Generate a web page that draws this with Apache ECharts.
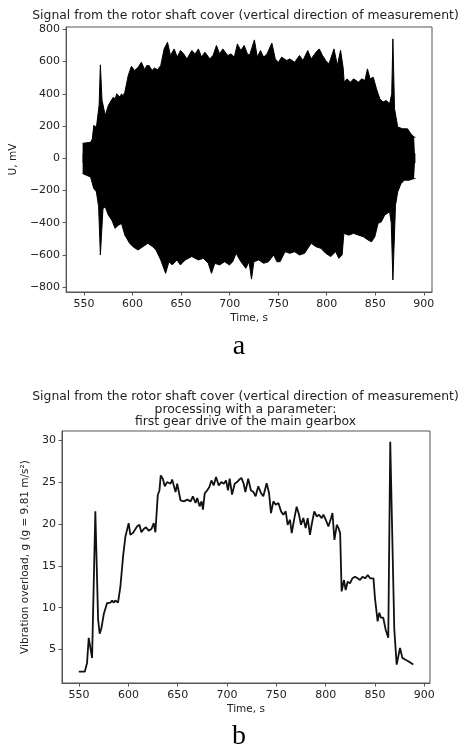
<!DOCTYPE html>
<html>
<head>
<meta charset="utf-8">
<script src="https://cdn.jsdelivr.net/npm/echarts@6/dist/echarts.min.js"></script>
<style>
  html, body { margin: 0; padding: 0; background: #fff; }
  #chart { width: 460px; height: 745px; }
</style>
</head>
<body>
<div id="chart"></div>
<script>
// (a) raw signal, drawn as its upper / lower envelope
const upperTime = [548.5, 556.7, 558.5, 560, 562.7, 565.5, 566.8, 568.5, 570.2, 571.8, 575, 578, 580.3, 582, 583.6, 587, 588.6, 590, 592, 595.5,
  598.8, 602, 605.5, 609, 612.5, 614.5, 617, 620, 622.5, 625.7, 629, 632.5, 636, 639, 642.8, 646, 649.3, 652.7, 656, 661,
  664.5, 667.8, 671, 674.5, 679.6, 683, 686.4, 689.7, 693, 698, 701.5, 704.8, 708, 711.5, 715, 718.3, 720.5, 725.5, 728.5, 731.8,
  735, 738.5, 743.5, 747, 750.3, 753.6, 758.7, 762, 767, 772, 775.5, 780.5, 784, 789, 792.3, 795.7, 799, 802.4, 807.5, 811,
  814.3, 817, 818, 821, 824.4, 827.7, 832.8, 836, 839.4, 842, 844.7, 848, 851.3, 854.7, 858, 861.4, 864.8, 867, 868.2, 869.9,
  873.2, 878.3, 883.3, 886.7, 890, 891.5]
const upperValue = [93, 99, 120, 204, 192, 330, 580, 360, 349, 266, 328, 360, 380, 365, 400, 380, 400, 385, 410, 514,
  571, 545, 563, 596, 550, 575, 576, 545, 560, 550, 576, 679, 720, 638, 679, 628, 669, 648, 617, 669,
  648, 679, 628, 659, 617, 640, 700, 648, 679, 638, 648, 628, 710, 669, 700, 648, 640, 735, 628, 669,
  628, 648, 715, 617, 596, 628, 607, 617, 596, 638, 607, 669, 617, 659, 679, 638, 607, 586, 679, 576,
  670, 560, 472, 493, 472, 493, 472, 493, 483, 555, 493, 503, 431, 370, 349, 359, 338, 400, 741, 308,
  194, 183, 183, 153, 132, 130]
const lowerTime = [548.5, 556.7, 560, 562.7, 565, 566.8, 569.5, 571.8, 575, 578.6, 582, 585.3, 588.6, 592, 597, 600.4, 605.5, 610.6, 615.7, 620.7,
  624.1, 629, 634, 637.5, 640.8, 645.8, 649.2, 654.3, 661, 667.8, 672.9, 678, 681.3, 684.7, 689.7, 694.8, 699.8, 703.2, 706.6, 711.6,
  716.7, 720, 722.5, 725, 730, 735, 740, 745.3, 748.7, 752, 757, 762, 767, 772, 777.2, 784, 789, 794, 799, 804.2,
  809.2, 812.5, 815.9, 817.7, 822.7, 827.7, 832.8, 837.8, 842.8, 846.2, 849.6, 853, 856.4, 859.7, 864.8, 866.5, 868.2, 870.9, 873.2, 876.6,
  880, 885, 890, 891.5]
const lowerValue = [-95, -116, -188, -208, -301, -600, -312, -301, -353, -384, -435, -415, -405, -477, -528, -549, -569, -549, -528, -549,
  -569, -631, -714, -642, -662, -631, -662, -631, -610, -631, -621, -652, -714, -652, -662, -642, -662, -642, -590, -642,
  -683, -642, -750, -642, -631, -652, -642, -600, -642, -642, -580, -590, -580, -600, -590, -528, -549, -559, -590, -610,
  -580, -621, -600, -466, -477, -466, -477, -487, -508, -518, -487, -404, -394, -353, -332, -400, -755, -291, -208, -157,
  -136, -136, -126, -124]

// (b) processed vibration overload
const bTime = [549.7, 555.8, 558.1, 559.8, 563.2, 566.5, 569.3, 570.9, 572.6, 575, 576.7, 578.4, 581.8, 583.5, 585.1, 586.8, 589.5, 591.9, 594.6, 597,
  598.7, 600.3, 602, 604.4, 606.4, 608.8, 611.2, 613.2, 615.6, 617.9, 620.6, 623.4, 625.7, 627.4, 629.8, 631.5, 632.8, 634.9, 636.9, 639.3,
  641, 642.7, 644.4, 646.1, 647.8, 649.5, 652.9, 656.3, 659.7, 661.4, 663.1, 665.4, 668.1, 669.8, 672.2, 674.2, 675.6, 677.4, 679.8, 682.1,
  684.2, 686.5, 688.9, 691.6, 694.3, 696.7, 699, 701, 702.7, 705.1, 707.8, 710.2, 712.5, 714.6, 716.9, 718.6, 721.5, 724.3, 726.6, 729,
  731.7, 734.4, 736.8, 740.2, 742.6, 744.6, 747, 749.4, 752.1, 754.8, 757.1, 759.5, 761.5, 763.9, 765.6, 768.3, 770.6, 773, 775, 777.4,
  779.7, 781.8, 784.1, 785.8, 788.5, 790.9, 793.3, 796, 797.7, 800.1, 802.8, 805.5, 806.9, 808.9, 811.3, 813, 814.7, 816.2, 818.6, 820.3,
  822.3, 824.7, 827.1, 829.8, 832.5, 834.9, 837.3, 840, 842.7, 845.1, 848.5, 850, 852.7, 854.4, 856.1, 858.4, 860.8, 863.5, 865.5, 866.5,
  869.6, 872, 873.7, 875.4, 877.8, 880.5, 883.8, 888.8]
const bValue = [2.35, 2.35, 3.4, 6.4, 4.0, 21.5, 8.6, 6.9, 7.5, 9.2, 9.4, 10.55, 10.6, 10.85, 10.6, 10.85, 10.6, 12.5, 16.1, 18.5,
  18.7, 20.1, 18.7, 18.9, 18.7, 19.7, 19.9, 19.0, 19.4, 19.6, 19.2, 19.4, 20.1, 19.0, 23.45, 24.0, 25.8, 25.4, 24.5, 25.0,
  25.2, 24.8, 25.3, 25.2, 23.8, 24.8, 22.8, 22.7, 22.9, 23.1, 22.7, 23.3, 22.5, 23.1, 22.1, 22.7, 21.7, 23.65, 24.0, 24.4,
  25.2, 24.6, 25.6, 24.6, 25.0, 24.8, 25.2, 24.0, 25.4, 23.5, 24.8, 25.0, 25.3, 25.5, 24.8, 23.8, 25.4, 24.0, 23.85, 23.3,
  24.5, 23.7, 23.3, 24.85, 23.7, 21.3, 22.7, 22.3, 22.5, 21.5, 21.1, 21.5, 19.9, 20.5, 18.9, 20.7, 22.06, 21.1, 19.9, 20.7,
  19.5, 20.7, 18.7, 19.9, 21.5, 20.9, 21.1, 20.7, 21.1, 20.5, 19.7, 20.7, 21.3, 18.1, 19.9, 19.5, 18.9, 11.94, 13.3, 12.1,
  13.1, 12.9, 13.5, 13.7, 13.5, 13.3, 13.7, 13.5, 13.9, 13.5, 13.5, 11.15, 8.37, 9.4, 8.8, 8.8, 7.4, 6.4, 29.8, 29.8,
  7.4, 3.2, 4.2, 5.2, 4.0, 3.8, 3.6, 3.2]

const xTicks = [550, 600, 650, 700, 750, 800, 850, 900]

const FONT = 'DejaVu Sans'
const TXT = '#222'
const AX = '#555'

function zip(a, b) {
  return a.map((v, i) => [v, b[i]])
}
function minusFmt(v) {
  return v < 0 ? '\u2212' + (-v) : String(v)
}

function xAxisOpt(gridIndex, min, max) {
  return {
    gridIndex, type: 'value', min, max, splitNumber: 8,
    name: 'Time, s', nameLocation: 'middle', nameGap: 21,
    nameTextStyle: { fontFamily: FONT, fontSize: 10.5, color: TXT },
    axisLine: { onZero: false, lineStyle: { color: AX, width: 1 } },
    axisTick: { length: 3.5, lineStyle: { color: AX }, customValues: xTicks },
    axisLabel: { margin: 7, fontFamily: FONT, fontSize: 11, color: TXT, customValues: xTicks },
    splitLine: { show: false }
  }
}
function yAxisOpt(gridIndex, min, max, split, name, gap) {
  return {
    gridIndex, type: 'value', min, max, splitNumber: split,
    name, nameLocation: 'middle', nameGap: gap,
    nameTextStyle: { fontFamily: FONT, fontSize: 10.5, color: TXT },
    axisLine: { show: true, onZero: false, lineStyle: { color: AX, width: 1 } },
    axisTick: { show: true, length: 3.5, lineStyle: { color: AX } },
    axisLabel: { margin: 6, fontFamily: FONT, fontSize: 11, color: TXT, formatter: minusFmt,
      showMinLabel: false, showMaxLabel: false },
    splitLine: { show: false }
  }
}
function titleText(text, y, size) {
  return {
    type: 'text', x: 245.5, y,
    style: { text, fill: TXT, fontFamily: FONT, fontSize: size,
      textAlign: 'center', textVerticalAlign: 'middle', align: 'center', verticalAlign: 'middle' }
  }
}
function letter(text, y) {
  return {
    type: 'text', x: 239, y,
    style: { text, fill: '#000', fontFamily: 'Liberation Serif', fontSize: 28,
      textAlign: 'center', textVerticalAlign: 'bottom', align: 'center', verticalAlign: 'bottom' }
  }
}

const chart = echarts.init(document.getElementById('chart'), null, { renderer: 'canvas' })
chart.setOption({
  animation: false,
  backgroundColor: '#fff',
  grid: [
    { left: 59, right: 28, top: 27, bottom: 453, show: true, borderColor: AX, borderWidth: 1 },
    { left: 62, right: 30, top: 431, bottom: 62, show: true, borderColor: AX, borderWidth: 1 }
  ],
  xAxis: [xAxisOpt(0, 531.5, 908.5), xAxisOpt(1, 532.7, 905.8)],
  yAxis: [
    yAxisOpt(0, -830, 815, 8, 'U, mV', 39),
    yAxisOpt(1, 1.0, 31.1, 6, 'Vibration overload, g (g = 9.81 m/s\u00b2)', 25)
  ],
  graphic: [
    titleText('Signal from the rotor shaft cover (vertical direction of measurement)', 16, 12.4),
    titleText('Signal from the rotor shaft cover (vertical direction of measurement)', 397, 12.4),
    titleText('processing with a parameter:', 409.5, 12.4),
    titleText('first gear drive of the main gearbox', 422, 12.4),
    letter('a', 361),
    letter('b', 751)
  ],
  series: [
    {
      type: 'line', xAxisIndex: 0, yAxisIndex: 0, data: zip(upperTime, upperValue),
      showSymbol: false, lineStyle: { color: '#000', width: 1 },
      areaStyle: { color: '#000', opacity: 1, origin: -30 }
    },
    {
      type: 'line', xAxisIndex: 0, yAxisIndex: 0, data: zip(lowerTime, lowerValue),
      showSymbol: false, lineStyle: { color: '#000', width: 1 },
      areaStyle: { color: '#000', opacity: 1, origin: 30 }
    },
    {
      type: 'line', xAxisIndex: 1, yAxisIndex: 1, data: zip(bTime, bValue),
      showSymbol: false, lineStyle: { color: '#111', width: 1.8 }
    }
  ]
})
</script>
</body>
</html>
